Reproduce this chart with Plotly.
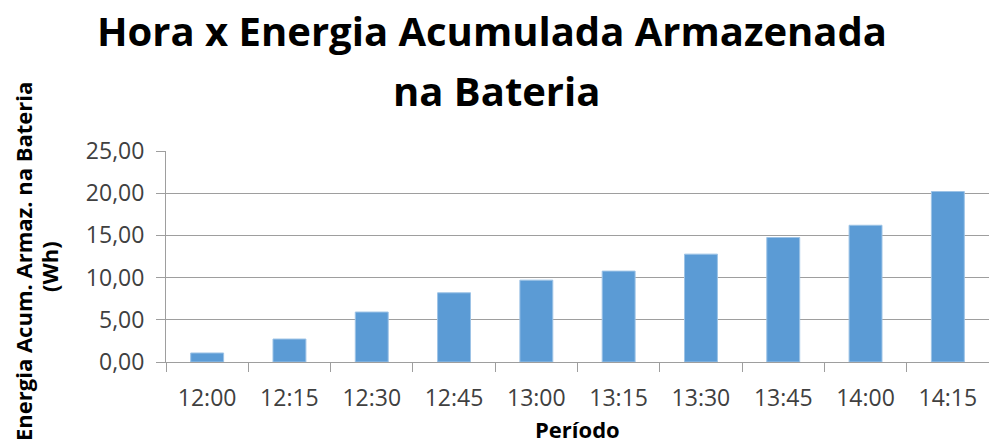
import plotly.graph_objects as go

periodos = ["12:00", "12:15", "12:30", "12:45", "13:00", "13:15", "13:30", "13:45", "14:00", "14:15"]
energia_wh = [1.07, 2.72, 5.92, 8.2, 9.7, 10.77, 12.78, 14.75, 16.2, 20.2]
y_ticks = [0, 5, 10, 15, 20, 25]

titulo_l1 = "Hora x Energia Acumulada Armazenada"
titulo_l2 = "na Bateria"
titulo_y_l1 = "Energia Acum. Armaz. na Bateria"
titulo_y_l2 = "(Wh)"
titulo_x = "Período"

fig = go.Figure(go.Bar(
    x=periodos, y=energia_wh,
    marker=dict(color="#5B9BD5", line=dict(width=1, color="#9DC3E6")),
))

bold_big = dict(family="Open Sans", size=40, color="black", weight="bold")
bold_ax = dict(family="Open Sans", size=22, color="black", weight="bold")

fig.update_layout(
    width=989, height=448,
    paper_bgcolor="white", plot_bgcolor="white",
    separators=",.",
    margin=dict(l=166, r=0, t=151, b=86, autoexpand=False),
    bargap=0.6,
    showlegend=False,
    font=dict(family="Open Sans", color="#404040"),
    annotations=[
        dict(text=titulo_l1, xref="paper", yref="paper", x=0.396, y=1.573,
             xanchor="center", yanchor="middle", showarrow=False, font=bold_big),
        dict(text=titulo_l2, xref="paper", yref="paper", x=0.401, y=1.289,
             xanchor="center", yanchor="middle", showarrow=False, font=bold_big),
        dict(text=titulo_y_l1, xref="paper", yref="paper", x=0, xshift=-143, y=0.474,
             xanchor="center", yanchor="middle", textangle=-90, showarrow=False, font=bold_ax),
        dict(text=titulo_y_l2, xref="paper", yref="paper", x=0, xshift=-117, y=0.45,
             xanchor="center", yanchor="middle", textangle=-90, showarrow=False, font=bold_ax),
        dict(text=titulo_x, xref="paper", yref="paper", x=0.5, y=-0.398,
             xanchor="center", yanchor="bottom", showarrow=False, font=bold_ax),
    ],
)

fig.update_xaxes(
    type="category", automargin=False,
    showline=True, linecolor="#9E9E9E", linewidth=1,
    ticks="outside", tickson="boundaries", ticklen=9, tickcolor="#9E9E9E",
    tickfont=dict(size=23, color="#404040"), ticklabelstandoff=15,
)

fig.update_yaxes(
    range=[0, 25], tickvals=y_ticks, tickformat=".2f", automargin=False,
    showline=True, linecolor="#9E9E9E", linewidth=1,
    showgrid=True, gridcolor="#9E9E9E", gridwidth=1,
    ticks="outside", ticklen=9, tickcolor="#9E9E9E",
    tickfont=dict(size=23, color="#404040"), ticklabelstandoff=7,
    zeroline=False,
)

fig.write_html("out.html", config={"displayModeBar": False},
               post_script="document.body.style.margin='0';")
